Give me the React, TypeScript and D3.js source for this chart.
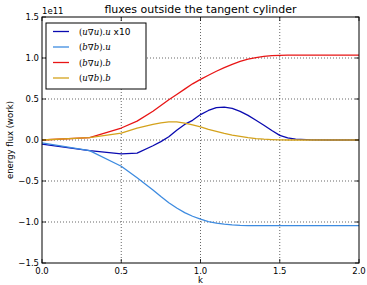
import { useEffect, useRef } from "react";
import * as d3 from "d3";

// k grid (wavenumber) and energy fluxes, in units of 1e11
const kValues = [0, 0.3, 0.5, 0.6, 0.7, 0.75, 0.8, 0.85, 0.9, 0.95, 1.0, 1.05, 1.1, 1.15, 1.2, 1.25, 1.3, 1.35, 1.4, 1.45, 1.5, 1.55, 1.6, 1.7, 1.8, 1.9, 2.0];
const uGradUu = [-0.05, -0.13, -0.17, -0.16, -0.07, -0.02, 0.04, 0.12, 0.19, 0.24, 0.31, 0.36, 0.395, 0.4, 0.385, 0.35, 0.3, 0.24, 0.18, 0.115, 0.056, 0.025, 0.01, 0.002, 0, 0, 0];
const bGradBu = [-0.035, -0.13, -0.32, -0.46, -0.61, -0.69, -0.765, -0.83, -0.885, -0.93, -0.965, -0.995, -1.013, -1.025, -1.034, -1.04, -1.043, -1.045, -1.045, -1.045, -1.045, -1.045, -1.045, -1.045, -1.045, -1.045, -1.045];
const bGradUb = [0, 0.03, 0.146, 0.23, 0.35, 0.42, 0.49, 0.555, 0.62, 0.685, 0.74, 0.79, 0.838, 0.883, 0.923, 0.958, 0.985, 1.005, 1.02, 1.03, 1.033, 1.035, 1.035, 1.035, 1.035, 1.035, 1.035];
const uGradBb = [0, 0.03, 0.085, 0.146, 0.19, 0.21, 0.22, 0.22, 0.205, 0.185, 0.16, 0.13, 0.105, 0.08, 0.06, 0.045, 0.03, 0.018, 0.01, 0.005, 0.002, 0, 0, 0, 0, 0, 0];

const xTicks = [0, 0.5, 1.0, 1.5, 2.0];
const yTicks = [-1.5, -1.0, -0.5, 0, 0.5, 1.0, 1.5];

type Series = { values: number[]; color: string; label: [string, boolean][] };

const series: Series[] = [
  { values: uGradUu, color: "#0a0ab0", label: [["(", false], ["u", true], ["∇", false], ["u", true], [").", false], ["u", true], [" x10", false]] },
  { values: bGradBu, color: "#3d8be0", label: [["(", false], ["b", true], ["∇", false], ["b", true], [").", false], ["u", true]] },
  { values: bGradUb, color: "#e81515", label: [["(", false], ["b", true], ["∇", false], ["u", true], [").", false], ["b", true]] },
  { values: uGradBb, color: "#d4a21c", label: [["(", false], ["u", true], ["∇", false], ["b", true], [").", false], ["b", true]] },
];

const W = 367;
const H = 285;
const M = { left: 42, right: 8, top: 17, bottom: 22 };
const FONT = "DejaVu Sans, sans-serif";

export default function App() {
  const ref = useRef<SVGSVGElement | null>(null);

  useEffect(() => {
    const svgEl = ref.current;
    if (!svgEl) return;
    const svg = d3.select(svgEl);
    svg.selectAll("*").remove();

    const x = d3.scaleLinear().domain([0, 2]).range([M.left, W - M.right]);
    const y = d3.scaleLinear().domain([-1.5, 1.5]).range([H - M.bottom, M.top]);
    const [x0, x1] = x.range();
    const [y0, y1] = y.range();

    svg.append("rect").attr("width", W).attr("height", H).attr("fill", "#fff");

    // grid
    const grid = svg.append("g").attr("stroke", "#000").attr("stroke-width", 0.6).attr("stroke-dasharray", "1,2");
    xTicks.slice(1, -1).forEach((t) => {
      grid.append("line").attr("x1", x(t)).attr("x2", x(t)).attr("y1", y1).attr("y2", y0);
    });
    yTicks.slice(1, -1).forEach((t) => {
      grid.append("line").attr("x1", x0).attr("x2", x1).attr("y1", y(t)).attr("y2", y(t));
    });

    // lines
    const line = d3
      .line<number>()
      .x((_, i) => x(kValues[i]))
      .y((d) => y(d));
    series.forEach((s) => {
      svg
        .append("path")
        .datum(s.values)
        .attr("d", line)
        .attr("fill", "none")
        .attr("stroke", s.color)
        .attr("stroke-width", 1.3)
        .attr("stroke-linejoin", "round");
    });

    // frame
    svg
      .append("rect")
      .attr("x", x0)
      .attr("y", y1)
      .attr("width", x1 - x0)
      .attr("height", y0 - y1)
      .attr("fill", "none")
      .attr("stroke", "#000")
      .attr("stroke-width", 1);

    // ticks (inward, both sides) and labels
    const tk = svg.append("g").attr("stroke", "#000").attr("stroke-width", 0.8);
    xTicks.forEach((t) => {
      tk.append("line").attr("x1", x(t)).attr("x2", x(t)).attr("y1", y0).attr("y2", y0 - 4);
      tk.append("line").attr("x1", x(t)).attr("x2", x(t)).attr("y1", y1).attr("y2", y1 + 4);
      svg
        .append("text")
        .text(t.toFixed(1))
        .attr("x", x(t))
        .attr("y", y0 + 11)
        .attr("text-anchor", "middle")
        .attr("font-family", FONT)
        .attr("font-size", 8.5)
        .attr("fill", "#000");
    });
    yTicks.forEach((t) => {
      tk.append("line").attr("x1", x0).attr("x2", x0 + 4).attr("y1", y(t)).attr("y2", y(t));
      tk.append("line").attr("x1", x1).attr("x2", x1 - 4).attr("y1", y(t)).attr("y2", y(t));
      svg
        .append("text")
        .text(t < 0 ? "\u2212" + Math.abs(t).toFixed(1) : t.toFixed(1))
        .attr("x", x0 - 3)
        .attr("y", y(t) + 3)
        .attr("text-anchor", "end")
        .attr("font-family", FONT)
        .attr("font-size", 8.5)
        .attr("fill", "#000");
    });

    // offset, title, axis labels
    svg
      .append("text")
      .text("1e11")
      .attr("x", x0)
      .attr("y", y1 - 3)
      .attr("font-family", FONT)
      .attr("font-size", 8.5)
      .attr("fill", "#000");
    svg
      .append("text")
      .text("fluxes outside the tangent cylinder")
      .attr("x", (x0 + x1) / 2)
      .attr("y", 13)
      .attr("text-anchor", "middle")
      .attr("font-family", FONT)
      .attr("font-size", 11)
      .attr("fill", "#000");
    svg
      .append("text")
      .text("k")
      .attr("x", (x0 + x1) / 2)
      .attr("y", H - 2)
      .attr("text-anchor", "middle")
      .attr("font-family", FONT)
      .attr("font-size", 8.5)
      .attr("fill", "#000");
    svg
      .append("text")
      .text("energy flux (work)")
      .attr("transform", `translate(13, ${(y0 + y1) / 2}) rotate(-90)`)
      .attr("text-anchor", "middle")
      .attr("font-family", FONT)
      .attr("font-size", 8.5)
      .attr("fill", "#000");

    // legend
    const lg = svg.append("g");
    lg.append("rect")
      .attr("x", 46)
      .attr("y", 23)
      .attr("width", 100)
      .attr("height", 66)
      .attr("fill", "#fff")
      .attr("stroke", "#000")
      .attr("stroke-width", 1);
    series.forEach((s, i) => {
      const ly = 31.5 + i * 15.5;
      lg.append("line")
        .attr("x1", 53)
        .attr("x2", 69)
        .attr("y1", ly)
        .attr("y2", ly)
        .attr("stroke", s.color)
        .attr("stroke-width", 1.3);
      const txt = lg
        .append("text")
        .attr("x", 79)
        .attr("y", ly + 3)
        .attr("font-size", 9)
        .attr("fill", "#000");
      s.label.forEach(([part, italic]) => {
        const sans = part === " x10";
        txt
          .append("tspan")
          .text(part)
          .attr("font-family", sans ? FONT : "DejaVu Serif, serif")
          .attr("font-size", sans ? 9 : 8.5)
          .attr("font-style", italic ? "italic" : "normal");
      });
    });
  }, []);

  return (
    <svg
      ref={ref}
      width={W}
      height={H}
      style={{ position: "absolute", left: 0, top: 0, display: "block" }}
    />
  );
}
